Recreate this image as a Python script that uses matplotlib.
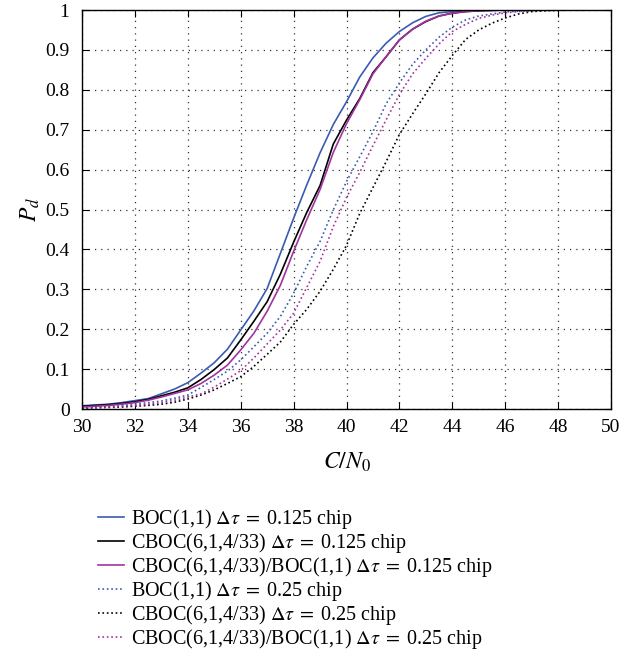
import numpy as np
import matplotlib
matplotlib.use("Agg")
import matplotlib.pyplot as plt
from matplotlib.ticker import FuncFormatter

cn0 = [30, 30.5, 31, 31.5, 32, 32.5, 33, 33.5, 34, 34.5, 35, 35.5, 36, 36.5, 37, 37.5,
       38, 38.5, 39, 39.5, 40, 40.5, 41, 41.5, 42, 42.5, 43, 43.5, 44, 44.5, 45, 45.5,
       46, 46.5, 47, 47.5, 48, 48.5, 49, 49.5, 50]

boc_0125 = [0.008, 0.010, 0.012, 0.016, 0.021, 0.026, 0.038, 0.050, 0.066, 0.090, 0.116, 0.150,
            0.198, 0.246, 0.302, 0.390, 0.478, 0.562, 0.642, 0.713, 0.770, 0.832, 0.880, 0.917,
            0.946, 0.968, 0.984, 0.993, 0.996, 0.998, 0.999, 1.0, 1.0, 1.0, 1.0, 1.0,
            1.0, 1.0, 1.0, 1.0, 1.0]
cboc_0125 = [0.007, 0.009, 0.011, 0.014, 0.018, 0.024, 0.033, 0.042, 0.053, 0.074, 0.099, 0.128,
             0.173, 0.220, 0.269, 0.338, 0.418, 0.493, 0.560, 0.664, 0.724, 0.778, 0.843, 0.883,
             0.925, 0.952, 0.971, 0.985, 0.992, 0.996, 0.998, 0.999, 1.0, 1.0, 1.0, 1.0,
             1.0, 1.0, 1.0, 1.0, 1.0]
mix_0125 = [0.005, 0.007, 0.009, 0.012, 0.016, 0.022, 0.030, 0.039, 0.048, 0.064, 0.085, 0.110,
            0.148, 0.190, 0.245, 0.310, 0.395, 0.475, 0.550, 0.643, 0.715, 0.775, 0.840, 0.883,
            0.925, 0.952, 0.972, 0.985, 0.992, 0.996, 0.998, 0.999, 1.0, 1.0, 1.0, 1.0,
            1.0, 1.0, 1.0, 1.0, 1.0]
boc_025 = [0.004, 0.005, 0.007, 0.009, 0.012, 0.016, 0.020, 0.027, 0.035, 0.054, 0.074, 0.095,
           0.123, 0.156, 0.190, 0.232, 0.290, 0.358, 0.420, 0.499, 0.570, 0.632, 0.695, 0.765,
           0.817, 0.864, 0.900, 0.932, 0.957, 0.975, 0.985, 0.990, 0.995, 0.997, 0.999, 1.0,
           1.0, 1.0, 1.0, 1.0, 1.0]
cboc_025 = [0.002, 0.003, 0.004, 0.005, 0.007, 0.009, 0.012, 0.017, 0.025, 0.035, 0.048, 0.064,
            0.081, 0.107, 0.137, 0.168, 0.212, 0.250, 0.295, 0.350, 0.410, 0.490, 0.555, 0.620,
            0.688, 0.740, 0.790, 0.843, 0.886, 0.926, 0.950, 0.967, 0.980, 0.990, 0.996, 0.998,
            0.999, 1.0, 1.0, 1.0, 1.0]
mix_025 = [0.003, 0.004, 0.005, 0.007, 0.009, 0.012, 0.016, 0.022, 0.030, 0.038, 0.055, 0.075,
           0.096, 0.128, 0.163, 0.198, 0.240, 0.305, 0.370, 0.457, 0.530, 0.593, 0.660, 0.725,
           0.788, 0.840, 0.879, 0.915, 0.946, 0.964, 0.979, 0.987, 0.993, 0.996, 0.998, 0.999,
           1.0, 1.0, 1.0, 1.0, 1.0]

labels = [r"BOC(1,1) $\Delta\tau\;=\;$0.125 chip",
          r"CBOC(6,1,4/33) $\Delta\tau\;=\;$0.125 chip",
          r"CBOC(6,1,4/33)/BOC(1,1) $\Delta\tau\;=\;$0.125 chip",
          r"BOC(1,1) $\Delta\tau\;=\;$0.25 chip",
          r"CBOC(6,1,4/33) $\Delta\tau\;=\;$0.25 chip",
          r"CBOC(6,1,4/33)/BOC(1,1) $\Delta\tau\;=\;$0.25 chip"]

xticks = list(range(30, 51, 2))
yticks = [0, 0.1, 0.2, 0.3, 0.4, 0.5, 0.6, 0.7, 0.8, 0.9, 1.0]

plt.rcParams['font.family'] = ['Liberation Serif', 'DejaVu Serif']
plt.rcParams['mathtext.fontset'] = 'stix'

BLUE = '#3a5bb0'
MAG = '#a3339e'

fig = plt.figure(figsize=(6.43, 6.60), dpi=100)
ax = fig.add_axes([82/643, 1-409/660, (611-82)/643, (409-10)/660])

series = [boc_0125, cboc_0125, mix_0125, boc_025, cboc_025, mix_025]
colors = [BLUE, 'black', MAG, BLUE, 'black', MAG]
styles = ['-', '-', '-', ':', ':', ':']
handles = []
for s, c, ls, lab in zip(series, colors, styles, labels):
    h, = ax.plot(cn0, s, color=c, linestyle=ls, linewidth=1.2, label=lab)
    handles.append(h)

ax.set_xlim(30, 50)
ax.set_ylim(0, 1)
ax.set_xticks(xticks)
ax.set_yticks(yticks)
ax.yaxis.set_major_formatter(FuncFormatter(lambda v, p: ('%g' % round(v, 2))))
ax.tick_params(direction='in', top=True, right=True, length=5, width=0.8, labelsize=14)
ax.tick_params(axis='x', pad=7)
ax.tick_params(axis='y', pad=9)
ax.grid(True, color='#333333', linestyle=(0, (1, 4)), linewidth=0.9)
for sp in ax.spines.values():
    sp.set_linewidth(1.0)

ax.set_xlabel(r'$C/N_0$', fontsize=17, labelpad=11)
ax.set_ylabel(r'$P_d$', fontsize=17, labelpad=2)

fig.legend(handles=handles, labels=labels, loc='upper left',
           bbox_to_anchor=(98/643, 1-507/660), frameon=False, fontsize=14.5,
           handlelength=1.3, handletextpad=0.35, labelspacing=0.0, borderaxespad=0,
           borderpad=0)

fig.savefig('out.png', dpi=100)
